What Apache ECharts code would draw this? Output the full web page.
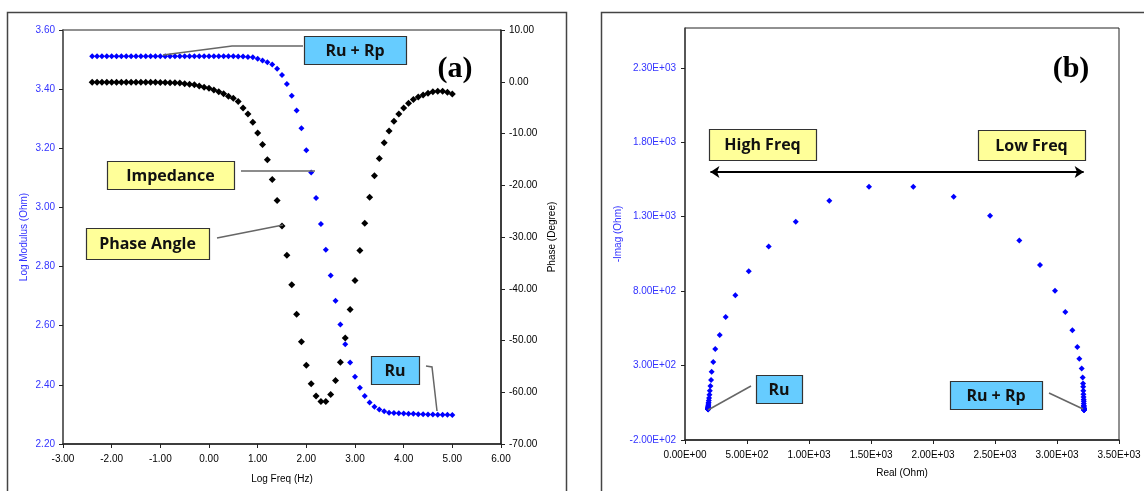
<!DOCTYPE html>
<html style="height: 100%;">
<head>
<meta charset="utf-8">
<title>Bode / Nyquist</title>
<script type="text/javascript" src="https://cdn.jsdelivr.net/npm/echarts/dist/echarts.min.js"></script>
</head>
<body style="height: 100%; margin: 0; background: #fff;">
<div id="container" style="width: 1144px; height: 491px;"></div>
<script type="text/javascript">
// log frequency (Hz), 10 points per decade
var logFreq = [-2.4, -2.3, -2.2, -2.1, -2.0, -1.9, -1.8, -1.7, -1.6, -1.5,
  -1.4, -1.3, -1.2, -1.1, -1.0, -0.9, -0.8, -0.7, -0.6, -0.5,
  -0.4, -0.3, -0.2, -0.1, 0.0, 0.1, 0.2, 0.3, 0.4, 0.5,
  0.6, 0.7, 0.8, 0.9, 1.0, 1.1, 1.2, 1.3, 1.4, 1.5,
  1.6, 1.7, 1.8, 1.9, 2.0, 2.1, 2.2, 2.3, 2.4, 2.5,
  2.6, 2.7, 2.8, 2.9, 3.0, 3.1, 3.2, 3.3, 3.4, 3.5,
  3.6, 3.7, 3.8, 3.9, 4.0, 4.1, 4.2, 4.3, 4.4, 4.5,
  4.6, 4.7, 4.8, 4.9, 5.0];

// log modulus (Ohm)
var logModulus = [3.511, 3.511, 3.511, 3.511, 3.511, 3.511, 3.511, 3.511, 3.511, 3.511,
  3.511, 3.511, 3.511, 3.511, 3.511, 3.511, 3.511, 3.511, 3.511, 3.511,
  3.511, 3.511, 3.511, 3.511, 3.511, 3.511, 3.511, 3.511, 3.511, 3.511,
  3.510, 3.510, 3.509, 3.508, 3.503, 3.497, 3.491, 3.483, 3.469, 3.448,
  3.417, 3.378, 3.328, 3.268, 3.193, 3.118, 3.032, 2.944, 2.857, 2.770,
  2.684, 2.604, 2.537, 2.476, 2.427, 2.390, 2.362, 2.340, 2.326, 2.317,
  2.311, 2.306, 2.305, 2.304, 2.303, 2.302, 2.302, 2.301, 2.301, 2.300,
  2.300, 2.299, 2.299, 2.299, 2.298];

// phase angle (degree)
var phaseDeg = [-0.1, -0.1, -0.1, -0.1, -0.1, -0.1, -0.1, -0.1, -0.1, -0.1,
  -0.1, -0.1, -0.1, -0.1, -0.15, -0.15, -0.2, -0.2, -0.23, -0.37,
  -0.50, -0.56, -0.81, -1.08, -1.27, -1.58, -1.91, -2.30, -2.82, -3.20,
  -3.84, -5.06, -6.21, -7.84, -9.88, -12.14, -15.09, -18.90, -22.95, -27.87,
  -33.51, -39.22, -44.95, -50.26, -54.80, -58.37, -60.72, -61.80, -61.80, -60.45,
  -57.75, -54.22, -49.53, -43.99, -38.39, -32.60, -27.33, -22.31, -18.18, -14.84,
  -11.81, -9.50, -7.64, -6.21, -5.06, -4.17, -3.45, -2.93, -2.55, -2.24,
  -1.91, -1.85, -1.85, -2.05, -2.35];

// Nyquist: real and -imag (Ohm), same frequency order
var zReal = [3218, 3218, 3218, 3218, 3218, 3218, 3218, 3218, 3218, 3218,
  3218, 3218, 3218, 3218, 3218, 3218, 3218, 3217, 3217, 3217,
  3216, 3216, 3216, 3216, 3215, 3214, 3213, 3212, 3211, 3210,
  3207, 3199, 3180, 3164, 3124, 3067, 2984, 2863, 2696, 2460,
  2167, 1841, 1484, 1164, 893, 675, 514, 406, 328, 280,
  244, 228, 215, 210, 205, 200, 197, 194, 192, 190,
  189, 188, 187, 187, 186, 186, 186, 186, 186, 186,
  186, 186, 186, 186, 186];
var zImag = [5, 5, 5, 5, 5, 5, 5, 5, 5, 5,
  5, 5, 5, 5, 5, 8, 11, 11, 13, 21,
  28, 31, 45, 61, 72, 88, 107, 130, 158, 180,
  220, 280, 346, 425, 537, 660, 803, 976, 1140, 1306,
  1434, 1501, 1500, 1407, 1266, 1100, 933, 772, 626, 505,
  411, 324, 259, 203, 162, 130, 104, 82, 65, 52,
  41, 33, 27, 22, 18, 15, 12, 10, 9, 8,
  7, 6, 6, 7, 8];

// arrow across the Nyquist plot (real from, real to, -imag)
var freqArrow = [205, 3215, 1600];

var dom = document.getElementById("container");
var myChart = echarts.init(dom, null, {renderer: 'canvas'});

var bodeMod = [], bodePhase = [], nyq = [];
for (var i = 0; i < logFreq.length; i++) {
  bodeMod.push([logFreq[i], logModulus[i]]);
  bodePhase.push([logFreq[i], phaseDeg[i]]);
  nyq.push([zReal[i], zImag[i]]);
}

function fix2(v) { return v.toFixed(2); }
function sci(v) {
  if (Math.abs(v) < 1e-9) return '0.00E+00';
  var s = v.toExponential(2).split('e');
  var e = parseInt(s[1], 10);
  var sign = e < 0 ? '-' : '+';
  e = Math.abs(e);
  return s[0] + 'E' + sign + (e < 10 ? '0' : '') + e;
}

var tickFont = {fontFamily: 'Liberation Sans', fontSize: 10};
var blue = '#3333ff';

// annotation box with centred text
function box(x, y, w, h, fill, text) {
  return [
    {type: 'rect', z: 100, shape: {x: x + 0.5, y: y + 0.5, width: w, height: h},
      style: {fill: fill, stroke: '#333', lineWidth: 1.2}},
    {type: 'text', z: 101, x: x + w / 2, y: y + h / 2 + 1,
      style: {text: text, fill: '#111', align: 'center', verticalAlign: 'middle',
        font: 'bold 16px "Open Sans", sans-serif'}}
  ];
}
function leader(points) {
  return {type: 'polyline', z: 99, shape: {points: points},
    style: {stroke: '#666', lineWidth: 1.5, fill: null}};
}

var graphics = [
  // panel frames
  {type: 'rect', z: 0, shape: {x: 7.5, y: 12.5, width: 559, height: 500}, style: {fill: null, stroke: '#444', lineWidth: 1.5}},
  {type: 'rect', z: 0, shape: {x: 601.5, y: 12.5, width: 600, height: 500}, style: {fill: null, stroke: '#444', lineWidth: 1.5}},
  // panel letters
  {type: 'text', z: 101, x: 455, y: 69, style: {text: '(a)', align: 'center', verticalAlign: 'middle', fill: '#000', font: 'bold 30px "Liberation Serif", serif'}},
  {type: 'text', z: 101, x: 1071, y: 69, style: {text: '(b)', align: 'center', verticalAlign: 'middle', fill: '#000', font: 'bold 30px "Liberation Serif", serif'}},
  leader([[163, 55], [232, 46], [303, 46]]),
  leader([[241, 171], [315, 171]]),
  leader([[217, 238], [283, 225]]),
  leader([[426, 366], [432, 367], [437, 411]]),
  leader([[708, 410], [751, 386]]),
  leader([[1049, 393], [1083, 409]])
];
graphics = graphics
  .concat(box(304, 36, 102, 28, '#66ccff', 'Ru + Rp'))
  .concat(box(107, 161, 127, 28, '#ffff99', 'Impedance'))
  .concat(box(86, 228, 123, 31, '#ffff99', 'Phase Angle'))
  .concat(box(371, 356, 48, 28, '#66ccff', 'Ru'))
  .concat(box(709, 129, 107, 31, '#ffff99', 'High Freq'))
  .concat(box(978, 130, 107, 30, '#ffff99', 'Low Freq'))
  .concat(box(756, 375, 46, 28, '#66ccff', 'Ru'))
  .concat(box(950, 381, 92, 28, '#66ccff', 'Ru + Rp'));

var option = {
  animation: false,
  backgroundColor: '#fff',
  grid: [
    {left: 63, top: 30, width: 438, height: 414, show: true, borderColor: '#222', borderWidth: 1},
    {left: 685, top: 28, width: 434, height: 412, show: true, borderColor: '#222', borderWidth: 1}
  ],
  xAxis: [
    {
      gridIndex: 0, type: 'value', min: -3, max: 6, interval: 1,
      name: 'Log Freq (Hz)', nameLocation: 'middle', nameGap: 30,
      nameTextStyle: {color: '#000', fontFamily: 'Liberation Sans', fontSize: 10},
      axisLine: {onZero: false, lineStyle: {color: '#222', width: 1.5}},
      axisTick: {length: 4, lineStyle: {color: '#222'}},
      axisLabel: Object.assign({color: '#000', margin: 10, formatter: fix2}, tickFont),
      splitLine: {show: false}
    },
    {
      gridIndex: 1, type: 'value', min: 0, max: 3500, interval: 500,
      name: 'Real (Ohm)', nameLocation: 'middle', nameGap: 28,
      nameTextStyle: {color: '#000', fontFamily: 'Liberation Sans', fontSize: 10},
      axisLine: {onZero: false, lineStyle: {color: '#222', width: 1.5}},
      axisTick: {length: 4, lineStyle: {color: '#222'}},
      axisLabel: Object.assign({color: '#000', margin: 10, formatter: sci}, tickFont),
      splitLine: {show: false}
    }
  ],
  yAxis: [
    {
      gridIndex: 0, type: 'value', min: 2.2, max: 3.6, interval: 0.2, position: 'left',
      name: 'Log Modulus (Ohm)', nameLocation: 'middle', nameGap: 34, nameRotate: 90,
      nameTextStyle: {color: blue, fontFamily: 'Liberation Sans', fontSize: 10},
      axisLine: {show: true, onZero: false, lineStyle: {color: '#666', width: 2}},
      axisTick: {show: true, length: 4, lineStyle: {color: '#222'}},
      axisLabel: Object.assign({color: blue, margin: 8, formatter: fix2}, tickFont),
      splitLine: {show: false}
    },
    {
      gridIndex: 0, type: 'value', min: -70, max: 10, interval: 10, position: 'right',
      name: 'Phase (Degree)', nameLocation: 'middle', nameGap: 46, nameRotate: 90,
      nameTextStyle: {color: '#000', fontFamily: 'Liberation Sans', fontSize: 10},
      axisLine: {show: true, onZero: false, lineStyle: {color: '#222', width: 1.5}},
      axisTick: {show: true, length: 4, lineStyle: {color: '#222'}},
      axisLabel: Object.assign({color: '#000', margin: 8, formatter: fix2}, tickFont),
      splitLine: {show: false}
    },
    {
      gridIndex: 1, type: 'value', min: -200, max: 2567, interval: 500, position: 'left',
      name: '-Imag (Ohm)', nameLocation: 'middle', nameGap: 62, nameRotate: 90,
      nameTextStyle: {color: blue, fontFamily: 'Liberation Sans', fontSize: 10},
      axisLine: {show: true, onZero: false, lineStyle: {color: '#444', width: 1.5}},
      axisTick: {show: true, length: 4, lineStyle: {color: '#222'}},
      axisLabel: Object.assign({color: blue, margin: 9, formatter: sci, showMaxLabel: false}, tickFont),
      splitLine: {show: false}
    }
  ],
  series: [
    {
      name: 'Phase Angle', type: 'scatter', xAxisIndex: 0, yAxisIndex: 1,
      symbol: 'diamond', symbolSize: 7, itemStyle: {color: '#000', opacity: 1},
      data: bodePhase
    },
    {
      name: 'Impedance', type: 'scatter', xAxisIndex: 0, yAxisIndex: 0,
      symbol: 'diamond', symbolSize: 6, itemStyle: {color: '#0000ff', opacity: 1},
      data: bodeMod
    },
    {
      name: 'Nyquist', type: 'scatter', xAxisIndex: 1, yAxisIndex: 2,
      symbol: 'diamond', symbolSize: 6, itemStyle: {color: '#0000ff', opacity: 1},
      data: nyq,
      markLine: {
        silent: true, symbol: ['arrow', 'arrow'], symbolSize: [9, 9],
        label: {show: false},
        lineStyle: {color: '#000', width: 2, type: 'solid', opacity: 1},
        data: [[{coord: [freqArrow[0], freqArrow[2]]}, {coord: [freqArrow[1], freqArrow[2]]}]]
      }
    }
  ],
  graphic: graphics
};

myChart.setOption(option);
</script>
</body>
</html>
